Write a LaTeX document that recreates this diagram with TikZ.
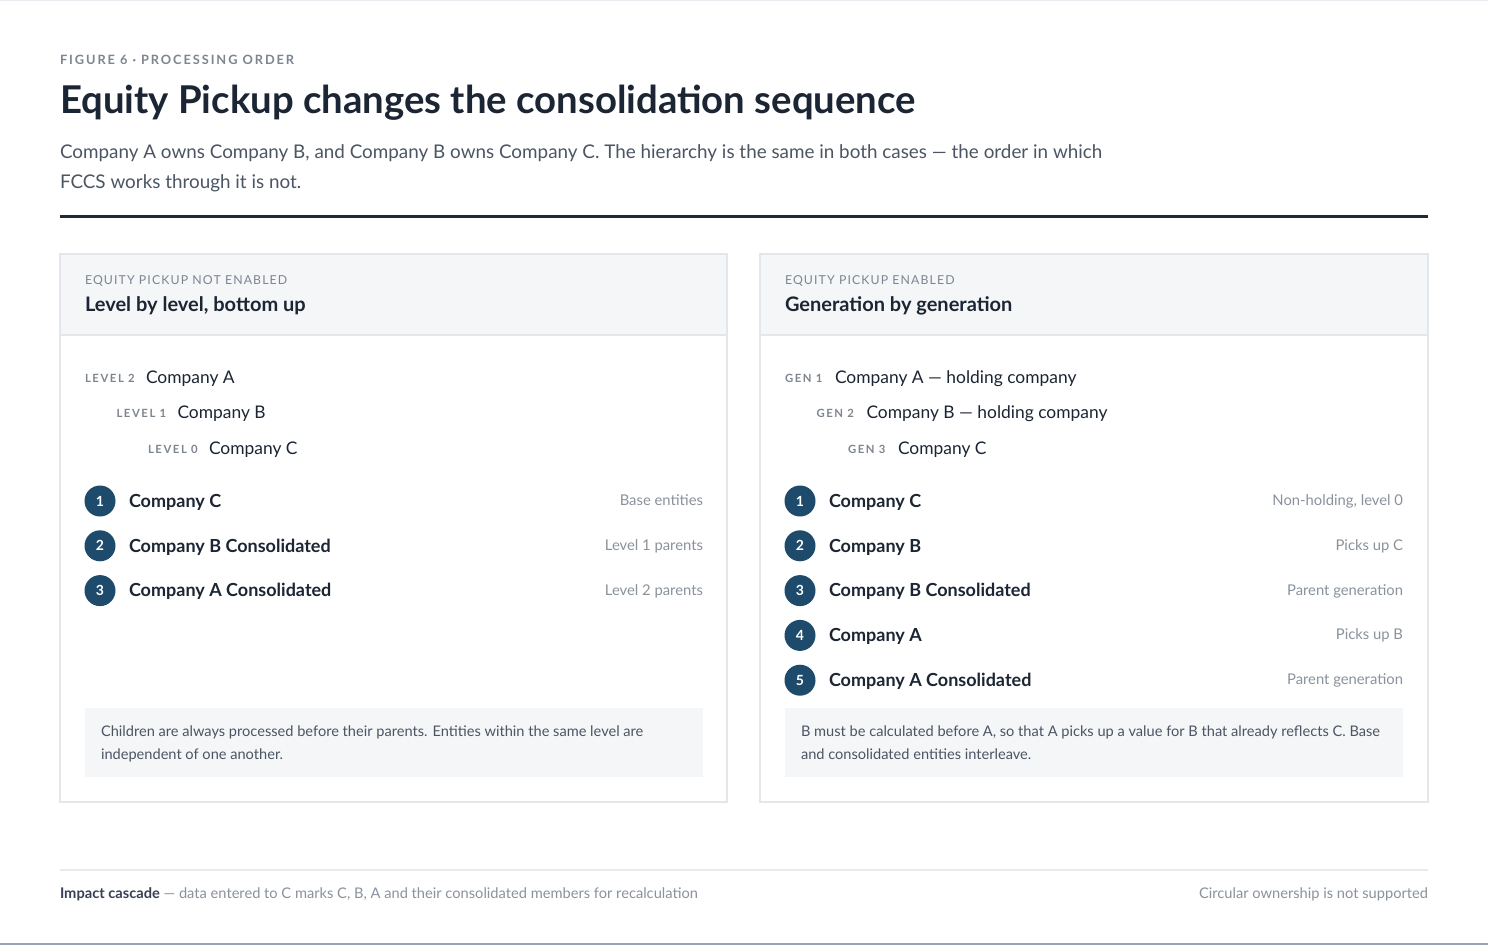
\documentclass[tikz,border=0pt]{standalone}
\usepackage{fontspec}
\setmainfont{Lato}
\newfontfamily\trackfont[LetterSpace=9]{Lato}
\newfontfamily\trackbold[LetterSpace=15,UprightFont={* Bold}]{Lato}
\newfontfamily\lvlbold[LetterSpace=14,UprightFont={* Bold}]{Lato}
\definecolor{ink}{HTML}{1B2533}
\definecolor{sub}{HTML}{4B5563}
\definecolor{faint}{HTML}{8A929C}
\definecolor{capgray}{HTML}{7D858F}
\definecolor{pborder}{HTML}{E3E6EA}
\definecolor{headfill}{HTML}{F5F6F8}
\definecolor{notefill}{HTML}{F4F6F8}
\definecolor{stepfill}{HTML}{1E4B6B}
\definecolor{rulecol}{HTML}{1F2937}
\definecolor{footline}{HTML}{E8ECF0}
\definecolor{edgeline}{HTML}{9CA3B4}
\definecolor{notetext}{HTML}{4B5563}
\definecolor{foottext}{HTML}{8A929B}
\definecolor{footbold}{HTML}{374151}
\begin{document}
\begin{tikzpicture}[x=1pt,y=-1pt,
  txt/.style={anchor=base west,inner sep=0pt,outer sep=0pt},
  rtxt/.style={anchor=base east,inner sep=0pt,outer sep=0pt},
  kicker/.style={txt,text=capgray,font=\trackbold\fontsize{12.8}{15}\selectfont},
  title/.style={txt,text=ink,font=\bfseries\fontsize{38.3}{42}\selectfont},
  subtitle/.style={txt,text=sub,font=\fontsize{18.85}{22}\selectfont},
  panelcap/.style={txt,text=capgray,font=\trackfont\fontsize{12.3}{15}\selectfont},
  panelhead/.style={txt,text=ink,font=\bfseries\fontsize{20}{24}\selectfont},
  lvl/.style={txt,text=capgray,font=\lvlbold\fontsize{11.3}{13}\selectfont},
  hier/.style={txt,text=ink,font=\fontsize{17.4}{20}\selectfont},
  stepnum/.style={circle,fill=stepfill,minimum size=31pt,inner sep=0pt,text=white,font=\bfseries\fontsize{14}{16}\selectfont},
  steptxt/.style={txt,text=ink,font=\bfseries\fontsize{18}{22}\selectfont},
  stepnote/.style={rtxt,text=faint,font=\fontsize{14.8}{18}\selectfont},
  notetxt/.style={txt,text=notetext,font=\fontsize{14.6}{18}\selectfont},
  foot/.style={txt,text=foottext,font=\fontsize{14.65}{18}\selectfont},
  panel/.style={draw=pborder,line width=1.2pt,fill=white},
  headbox/.style={fill=headfill},
  notebox/.style={fill=notefill},
]
\useasboundingbox (0,0) rectangle (1488,945);
\fill[white] (0,0) rectangle (1488,945);
\draw[footline,line width=1pt] (0,0.5) -- (1488,0.5);
\fill[edgeline] (0,943) rectangle (1488,945);

% header
\node[kicker] (kick) at (60,64.3) {FIGURE 6 · PROCESSING ORDER};
\node[title] (ttl) at (60,113.8) {Equity Pickup changes the consolidation sequence};
\node[subtitle] (sub1) at (60,158.3) {Company A owns Company B, and Company B owns Company C. The hierarchy is the same in both cases — the order in which};
\node[subtitle] (sub2) at (60,188) {FCCS works through it is not.};
\fill[rulecol] (60,215.2) rectangle (1428,218.2);

% left panel
\draw[panel] (60,254) rectangle (727,802);
\fill[headbox] (60.6,254.6) rectangle (726.4,335);
\draw[pborder,line width=1.2pt] (60,335) -- (727,335);
\node[panelcap] (lcap) at (85,284) {EQUITY PICKUP NOT ENABLED};
\node[panelhead] (lhead) at (85,311.7) {Level by level, bottom up};

\node[lvl] (l2) at (85,382) {LEVEL 2};
\node[hier] (lA) at (146,383.3) {Company A};
\node[lvl] (l1) at (116.5,417.5) {LEVEL 1};
\node[hier] (lB) at (177.5,418.8) {Company B};
\node[lvl] (l0) at (148,453) {LEVEL 0};
\node[hier] (lC) at (209,454.3) {Company C};

\node[stepnum] (ls1) at (100,501) {1};
\node[steptxt] (lt1) at (129,507.3) {Company C};
\node[stepnote] (ln1) at (703,505.5) {Base entities};
\node[stepnum] (ls2) at (100,545.8) {2};
\node[steptxt] (lt2) at (129,552.1) {Company B Consolidated};
\node[stepnote] (ln2) at (703,550.3) {Level 1 parents};
\node[stepnum] (ls3) at (100,590.6) {3};
\node[steptxt] (lt3) at (129,596.9) {Company A Consolidated};
\node[stepnote] (ln3) at (703,595.1) {Level 2 parents};

\fill[notebox] (85,708) rectangle (703,777);
\node[notetxt] (lnote1) at (101,736.7) {Children are always processed before their parents. Entities within the same level are};
\node[notetxt] (lnote2) at (101,759.4) {independent of one another.};

% right panel
\draw[panel] (760,254) rectangle (1428,802);
\fill[headbox] (760.6,254.6) rectangle (1427.4,335);
\draw[pborder,line width=1.2pt] (760,335) -- (1428,335);
\node[panelcap] (rcap) at (785,284) {EQUITY PICKUP ENABLED};
\node[panelhead] (rhead) at (785,311.7) {Generation by generation};

\node[lvl] (g1) at (785,382) {GEN 1};
\node[hier] (rA) at (835,383.3) {Company A — holding company};
\node[lvl] (g2) at (816.5,417.5) {GEN 2};
\node[hier] (rB) at (866.5,418.8) {Company B — holding company};
\node[lvl] (g3) at (848,453) {GEN 3};
\node[hier] (rC) at (898,454.3) {Company C};

\node[stepnum] (rs1) at (800,501) {1};
\node[steptxt] (rt1) at (829,507.3) {Company C};
\node[stepnote] (rn1) at (1403,505.5) {Non-holding, level 0};
\node[stepnum] (rs2) at (800,545.8) {2};
\node[steptxt] (rt2) at (829,552.1) {Company B};
\node[stepnote] (rn2) at (1403,550.3) {Picks up C};
\node[stepnum] (rs3) at (800,590.6) {3};
\node[steptxt] (rt3) at (829,596.9) {Company B Consolidated};
\node[stepnote] (rn3) at (1403,595.1) {Parent generation};
\node[stepnum] (rs4) at (800,635.4) {4};
\node[steptxt] (rt4) at (829,641.7) {Company A};
\node[stepnote] (rn4) at (1403,639.9) {Picks up B};
\node[stepnum] (rs5) at (800,680.2) {5};
\node[steptxt] (rt5) at (829,686.5) {Company A Consolidated};
\node[stepnote] (rn5) at (1403,684.7) {Parent generation};

\fill[notebox] (785,708) rectangle (1403,777);
\node[notetxt] (rnote1) at (801,736.7) {B must be calculated before A, so that A picks up a value for B that already reflects C. Base};
\node[notetxt] (rnote2) at (801,759.4) {and consolidated entities interleave.};

% footer
\draw[footline,line width=1.5pt] (60,870) -- (1428,870);
\node[foot] (f1) at (60,898) {\textcolor{footbold}{\bfseries Impact cascade} — data entered to C marks C, B, A and their consolidated members for recalculation};
\node[foot,anchor=base east] (f2) at (1428,898) {Circular ownership is not supported};
\end{tikzpicture}
\end{document}
